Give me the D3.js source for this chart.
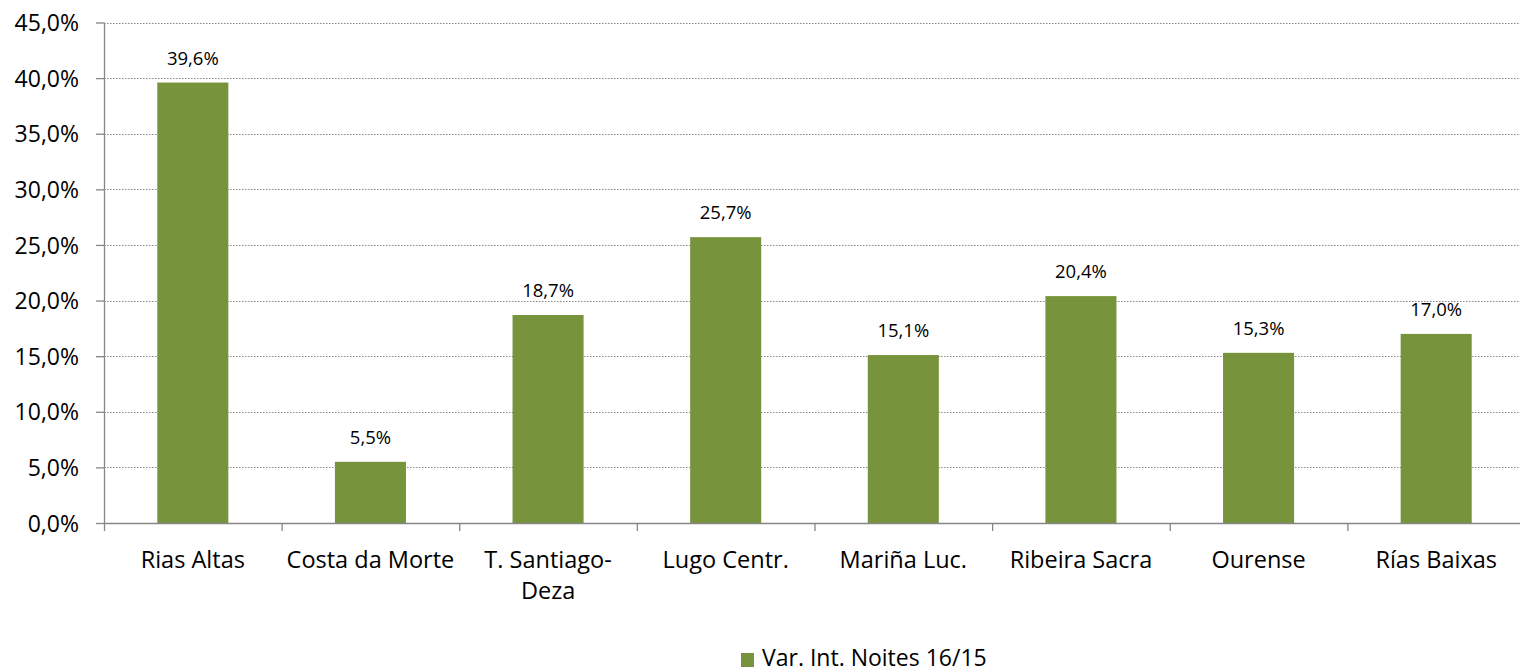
<!DOCTYPE html>
<html><head><meta charset="utf-8">
<script src="https://cdn.jsdelivr.net/npm/d3@7"></script>
<style>body{margin:0;background:#fff}svg{display:block}text{font-family:"Open Sans",sans-serif;fill:#000}</style>
</head><body>
<script>
const categories = [["Rias Altas"],["Costa da Morte"],["T. Santiago-","Deza"],["Lugo Centr."],["Mariña Luc."],["Ribeira Sacra"],["Ourense"],["Rías Baixas"]];
const values = [39.6, 5.5, 18.7, 25.7, 15.1, 20.4, 15.3, 17.0];
const yTicks = [0,5,10,15,20,25,30,35,40,45];
const seriesName = "Var. Int. Noites 16/15";
const color = "#77933C";

const W=1520,H=672;
const svg=d3.select("body").append("svg").attr("width",W).attr("height",H);
const x=d3.scaleBand().domain(d3.range(categories.length)).range([104,1525]).paddingInner(0.6).paddingOuter(0.3);
const y=d3.scaleLinear().domain([0,45]).range([523,22.5]);
const fmt=v=>d3.format(".1f")(v).replace(".",",")+"%";

// grid
svg.append("g").selectAll("line").data(yTicks.filter(t=>t>0)).join("line")
 .attr("x1",104).attr("x2",1525).attr("y1",d=>Math.round(y(d))+0.5).attr("y2",d=>Math.round(y(d))+0.5)
 .attr("stroke","#868686").attr("stroke-width",1).attr("stroke-dasharray","1.5,1.5");

// bars
svg.append("g").selectAll("rect").data(values).join("rect")
 .attr("x",(d,i)=>x(i)).attr("width",x.bandwidth()).attr("y",d=>y(d)).attr("height",d=>y(0)-y(d)).attr("fill",color);

// y axis
const ya=svg.append("g").attr("transform","translate(104,0)").call(d3.axisLeft(y).tickValues(yTicks).tickFormat(fmt).tickSize(8).tickPadding(17));
ya.select(".domain").attr("stroke","#868686").attr("stroke-width",1.3).attr("d","M0.5,22.5V523.5");
ya.selectAll(".tick line").attr("stroke","#868686").attr("stroke-width",1.3);
ya.selectAll(".tick text").style("font-size","23px").attr("dy","0.35em");

// x axis
const bounds=d3.range(categories.length+1).map(i=>104+i*(1525-104)/categories.length);
svg.append("line").attr("x1",104).attr("x2",1525).attr("y1",523.5).attr("y2",523.5).attr("stroke","#868686").attr("stroke-width",1.3);
svg.append("g").selectAll("line").data(bounds).join("line")
 .attr("x1",d=>d+0.5).attr("x2",d=>d+0.5).attr("y1",523).attr("y2",531).attr("stroke","#868686").attr("stroke-width",1.3);
const cl=svg.append("g").selectAll("text").data(categories).join("text")
 .attr("x",(d,i)=>x(i)+x.bandwidth()/2).attr("y",568).attr("text-anchor","middle").style("font-size","23.5px");
cl.each(function(d){d3.select(this).selectAll("tspan").data(d).join("tspan").attr("x",d3.select(this).attr("x")).attr("dy",(t,j)=>j?"31":0).text(t=>t);});

// data labels
svg.append("g").selectAll("text").data(values).join("text")
 .attr("x",(d,i)=>x(i)+x.bandwidth()/2).attr("y",d=>y(d)-18).attr("text-anchor","middle").style("font-size","18.5px").text(fmt);

// legend
const lg=svg.append("g");
lg.append("rect").attr("x",741).attr("y",653).attr("width",13).attr("height",14).attr("fill",color);
lg.append("text").attr("x",762).attr("y",666).style("font-size","23px").text(seriesName);
</script>
</body></html>
